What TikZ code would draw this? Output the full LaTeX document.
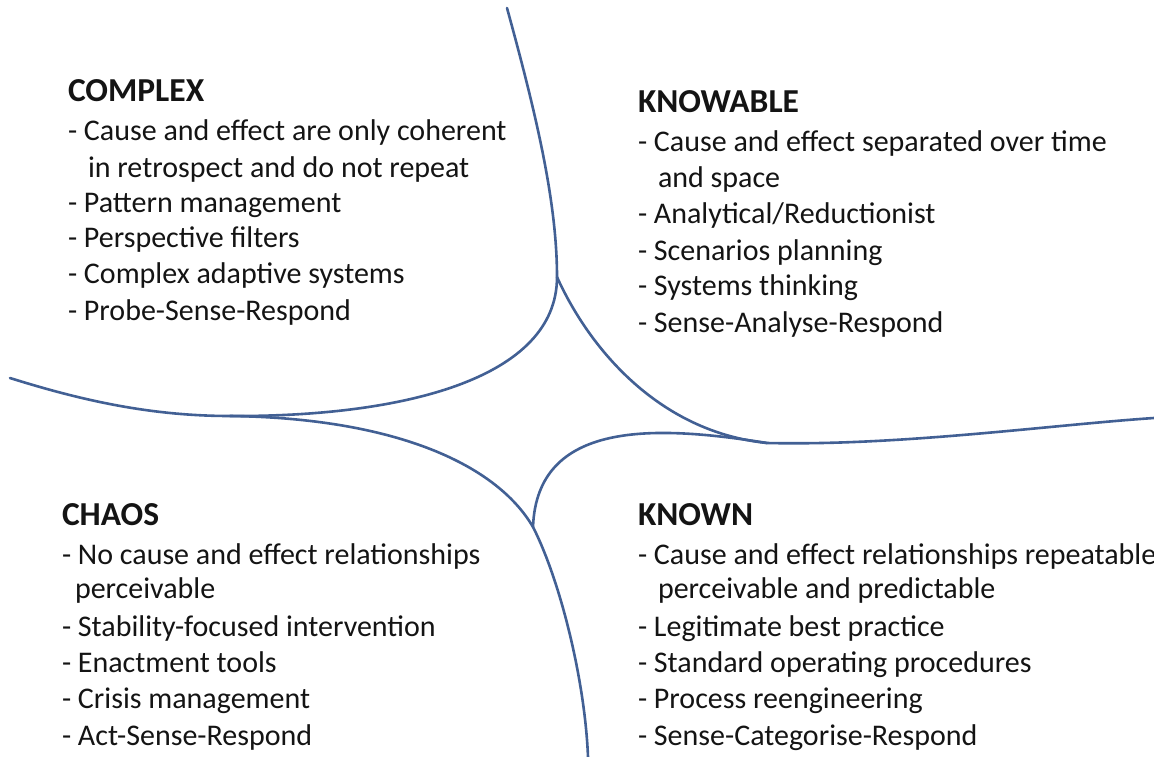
\documentclass[tikz,border=0pt]{standalone}
\usepackage{fontspec}
\setmainfont{Carlito}
\begin{document}
\begin{tikzpicture}[x=1pt,y=-1pt,
  curve/.style={draw={rgb,255:red,66;green,96;blue,148},line width=2.6pt,line cap=round},
  txt/.style={anchor=base west,inner sep=0pt,outer sep=0pt,font=\fontsize{30}{36}\selectfont,text={rgb,255:red,20;green,20;blue,20}},
  head/.style={txt,font=\fontsize{33.5}{40}\selectfont\bfseries}]
\clip (0,0) rectangle (1154,757);
\fill[white] (0,0) rectangle (1154,757);
% junction points
\coordinate (top) at (507,8);
\coordinate (jt) at (557,277);
\coordinate (jl) at (230,416);
\coordinate (left) at (10,378);
\coordinate (jr) at (767,443);
\coordinate (right) at (1154,418);
\coordinate (jb) at (533,527);
\coordinate (bottom) at (588,757);
% curves
\draw[curve] (top) .. controls (535,110) and (557,200) .. (jt)
  .. controls (557,378) and (405,417) .. (jl)
  .. controls (150,416) and (80,400) .. (left);
\draw[curve] (jt) .. controls (590,350) and (660,432) .. (jr)
  .. controls (900,446) and (1050,425) .. (right);
\draw[curve] (jr) .. controls (655,425) and (537,420) .. (jb);
\draw[curve] (jl) .. controls (390,418) and (495,462) .. (jb)
  .. controls (560,580) and (585,680) .. (bottom);
% COMPLEX
\node[head] (cx0) at (68,102) {COMPLEX};
\foreach \dx/\y/\t [count=\i] in {0/141/{- Cause and effect are only coherent},
  20/177/{in retrospect and do not repeat},
  0/212/{- Pattern management},
  0/247/{- Perspective filters},
  0/283/{- Complex adaptive systems},
  0/320/{- Probe-Sense-Respond}}
  \node[txt] (cx\i) at (68+\dx,\y) {\t};
% KNOWABLE
\node[head] (kb0) at (638,113) {KNOWABLE};
\foreach \dx/\y/\t [count=\i] in {0/152/{- Cause and effect separated over time},
  20/187/{and space},
  0/223/{- Analytical/Reductionist},
  0/260/{- Scenarios planning},
  0/295/{- Systems thinking},
  0/332/{- Sense-Analyse-Respond}}
  \node[txt] (kb\i) at (638+\dx,\y) {\t};
% CHAOS
\node[head] (ch0) at (62,525) {CHAOS};
\foreach \dx/\y/\t [count=\i] in {0/564/{- No cause and effect relationships},
  13/598/{perceivable},
  0/636/{- Stability-focused intervention},
  0/672/{- Enactment tools},
  0/708/{- Crisis management},
  0/745/{- Act-Sense-Respond}}
  \node[txt] (ch\i) at (62+\dx,\y) {\t};
% KNOWN
\node[head] (kn0) at (638,525) {KNOWN};
\foreach \dx/\y/\t [count=\i] in {0/564/{- Cause and effect relationships repeatable},
  20/598/{perceivable and predictable},
  0/636/{- Legitimate best practice},
  0/672/{- Standard operating procedures},
  0/708/{- Process reengineering},
  0/745/{- Sense-Categorise-Respond}}
  \node[txt] (kn\i) at (638+\dx,\y) {\t};
\end{tikzpicture}
\end{document}
